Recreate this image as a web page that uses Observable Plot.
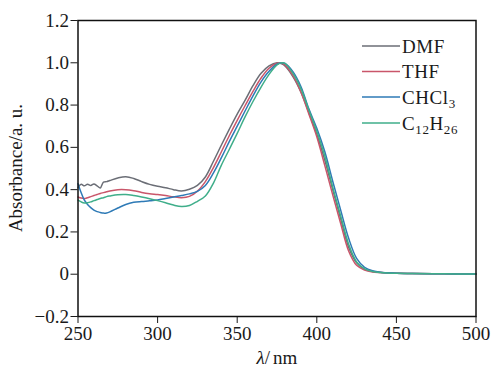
<!DOCTYPE html>
<html>
<head>
<meta charset="utf-8">
<script src="https://cdn.jsdelivr.net/npm/d3@7"></script>
<script src="https://cdn.jsdelivr.net/npm/@observablehq/plot@0.6"></script>
<style>
  html, body { margin: 0; padding: 0; background: #fff; }
  #chart svg { display: block; }
</style>
</head>
<body>
<div id="chart"></div>
<script>
const wavelength = [250,252,254,256,258,260,262,264,266,268,270,275,280,285,290,295,300,305,310,315,320,325,330,335,340,345,350,355,360,365,370,375,378,380,385,390,395,400,405,410,415,420,425,430,435,440,450,460,480,500];

const dmf = [0.410,0.425,0.418,0.426,0.420,0.427,0.418,0.408,0.436,0.438,0.443,0.455,0.461,0.453,0.438,0.425,0.416,0.409,0.400,0.394,0.402,0.420,0.460,0.533,0.610,0.685,0.757,0.823,0.893,0.950,0.985,1.000,0.995,0.985,0.935,0.862,0.765,0.662,0.540,0.400,0.262,0.128,0.054,0.024,0.013,0.008,0.004,0.003,0.002,0.001];
const thf = [0.365,0.360,0.358,0.362,0.367,0.372,0.377,0.382,0.386,0.390,0.394,0.400,0.400,0.395,0.387,0.381,0.377,0.372,0.366,0.362,0.368,0.393,0.438,0.503,0.578,0.655,0.728,0.798,0.866,0.928,0.974,0.998,0.998,0.990,0.940,0.862,0.758,0.650,0.515,0.375,0.240,0.110,0.042,0.020,0.011,0.008,0.004,0.003,0.002,0.001];
const chcl3 = [0.428,0.385,0.350,0.330,0.315,0.303,0.296,0.292,0.289,0.290,0.295,0.313,0.330,0.340,0.344,0.347,0.351,0.358,0.365,0.372,0.380,0.392,0.420,0.478,0.550,0.627,0.700,0.773,0.845,0.910,0.960,0.993,1.000,0.997,0.958,0.888,0.782,0.690,0.580,0.440,0.303,0.170,0.075,0.033,0.016,0.009,0.005,0.003,0.002,0.001];
const c12h26 = [0.350,0.342,0.337,0.338,0.342,0.348,0.353,0.358,0.362,0.367,0.370,0.376,0.377,0.372,0.365,0.357,0.348,0.338,0.327,0.320,0.325,0.345,0.370,0.430,0.515,0.590,0.666,0.745,0.818,0.885,0.945,0.990,1.000,0.997,0.950,0.878,0.777,0.676,0.560,0.412,0.276,0.142,0.058,0.025,0.013,0.008,0.004,0.003,0.002,0.001];

const seriesNames = ["DMF", "THF", "CHCl3", "C12H26"];
const seriesValues = [dmf, thf, chcl3, c12h26];
const seriesColors = ["#6b6e76", "#c9566a", "#2e7ab6", "#3fae8a"];
const xTicks = [250, 300, 350, 400, 450, 500];
const yTicks = [-0.2, 0, 0.2, 0.4, 0.6, 0.8, 1.0, 1.2];
const yLabel = "Absorbance/a. u.";

const rows = [];
seriesNames.forEach((name, i) => {
  wavelength.forEach((w, j) => rows.push({series: name, w, a: seriesValues[i][j]}));
});

const font = "'Liberation Serif', 'Times New Roman', serif";

const chart = Plot.plot({
  width: 493,
  height: 370,
  marginLeft: 77.5,
  marginRight: 17.5,
  marginTop: 20,
  marginBottom: 54,
  style: {fontFamily: font, fontSize: "19px", color: "#1a1a1a", background: "#fff"},
  x: {domain: [250, 500], ticks: xTicks, tickSize: 7, tickPadding: 3, label: null},
  y: {domain: [-0.2, 1.2], ticks: yTicks, tickSize: 7, tickPadding: 2,
      tickFormat: d => d === 0 ? "0" : d3.format(".1f")(d), label: null},
  color: {domain: seriesNames, range: seriesColors},
  marks: [
    Plot.line(rows, {x: "w", y: "a", z: "series", stroke: "series", strokeWidth: 1.5, curve: "catmull-rom"}),
    Plot.frame({stroke: "#111", strokeWidth: 1.5})
  ]
});

document.getElementById("chart").appendChild(chart);

const svg = d3.select(chart);
// Y axis label
svg.append("text")
  .attr("transform", `translate(18,168) rotate(-90)`)
  .attr("text-anchor", "middle")
  .attr("dominant-baseline", "middle")
  .attr("font-family", font).attr("font-size", 19).attr("fill", "#1a1a1a")
  .text(yLabel);

// X axis label
const xl = svg.append("text")
  .attr("x", 277).attr("y", 364)
  .attr("text-anchor", "middle")
  .attr("font-family", font).attr("font-size", 19).attr("fill", "#1a1a1a");
xl.append("tspan").attr("font-style", "italic").text("λ");
xl.append("tspan").text("/");
xl.append("tspan").attr("dx", 3).text("nm");

// Legend
const legendParts = [
  [["DMF", false]],
  [["THF", false]],
  [["CHCl", false], ["3", true]],
  [["C", false], ["12", true], ["H", false], ["26", true]]
];
const legendY = [46, 71.5, 97, 123];
legendParts.forEach((parts, i) => {
  const g = svg.append("g");
  g.append("line").attr("x1", 362).attr("x2", 400)
    .attr("y1", legendY[i]).attr("y2", legendY[i])
    .attr("stroke", seriesColors[i]).attr("stroke-width", 1.5);
  const t = g.append("text").attr("x", 402).attr("y", legendY[i] + 6.5)
    .attr("text-anchor", "start")
    .attr("font-family", font).attr("font-size", 19).attr("fill", "#1a1a1a")
    .attr("letter-spacing", 0.6);
  let shifted = false;
  parts.forEach(([s, sub]) => {
    const ts = t.append("tspan").text(s);
    if (sub) { ts.attr("font-size", 13).attr("dy", 4); shifted = true; }
    else if (shifted) { ts.attr("dy", -4); shifted = false; }
  });
});
</script>
</body>
</html>
